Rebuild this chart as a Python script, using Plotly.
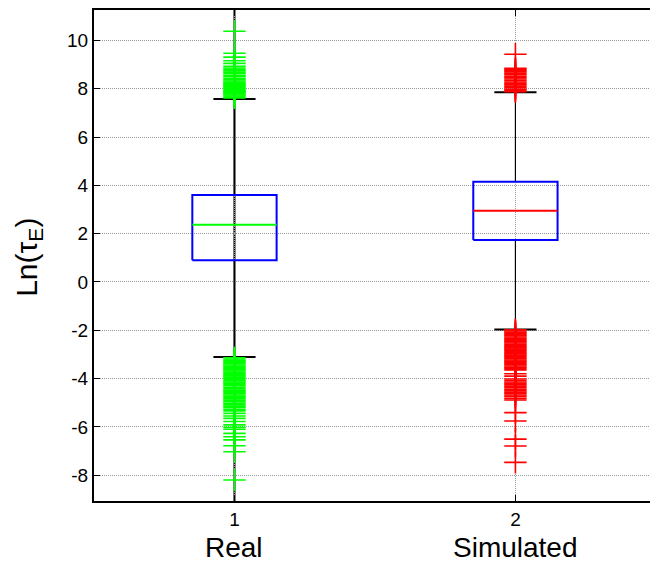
import plotly.graph_objects as go

# ---- data ----
categories = ["Real", "Simulated"]
positions = [1, 2]
q1 = [0.90, 1.74]
median = [2.37, 2.95]
q3 = [3.60, 4.15]
lower_whisker = [-3.11, -1.97]
upper_whisker = [7.58, 7.85]

real_outliers = [10.38, 9.47, 9.31, 9.16, 9.05, 8.93, 8.86, 8.80, 8.74, 8.68, 8.62, 8.55,
                 8.50, 8.42, 8.37, 8.32, 8.27, 8.22, 8.18, 8.14, 8.10, 8.06, 8.02, 7.98,
                 7.94, 7.90, 7.86, 7.82, 7.78, 7.74, 7.70, 7.66, 7.62,
                 -3.14, -3.19, -3.24, -3.29, -3.34, -3.39, -3.44, -3.49, -3.54, -3.59,
                 -3.64, -3.69, -3.74, -3.79, -3.84, -3.89, -3.94, -3.99, -4.04, -4.09,
                 -4.14, -4.19, -4.24, -4.30, -4.36, -4.42, -4.48, -4.53, -4.58, -4.63,
                 -4.68, -4.73, -4.78, -4.84, -4.90, -4.96, -5.02, -5.08, -5.14, -5.20,
                 -5.27, -5.34, -5.44, -5.55, -5.65, -5.78, -5.92, -6.02, -6.10, -6.27,
                 -6.41, -6.54, -6.78, -7.03, -8.20]
sim_outliers = [9.43, 8.85, 8.80, 8.75, 8.70, 8.64, 8.58, 8.52, 8.46, 8.40, 8.34, 8.28,
                8.22, 8.16, 8.10, 8.04, 7.98, 7.92, 7.88,
                -1.98, -2.03, -2.08, -2.13, -2.18, -2.23, -2.28, -2.33, -2.38, -2.43,
                -2.48, -2.53, -2.58, -2.63, -2.68, -2.73, -2.78, -2.83, -2.88, -2.93,
                -2.98, -3.03, -3.08, -3.13, -3.18, -3.23, -3.28, -3.33, -3.38, -3.43,
                -3.48, -3.53, -3.58, -3.64, -3.80, -3.90, -4.02, -4.08, -4.14, -4.20,
                -4.26, -4.32, -4.38, -4.44, -4.50, -4.56, -4.62, -4.68, -4.74, -4.82,
                -4.89, -5.41, -5.76, -6.51, -6.79, -7.47]
outliers = [real_outliers, sim_outliers]

y_tickvals = [-8, -6, -4, -2, 0, 2, 4, 6, 8, 10]
y_ticktext = ["-8", "-6", "-4", "-2", "0", "2", "4", "6", "8", "10"]
x_ticktext = ["1", "2"]

# ---- styles ----
median_colors = ["#00FF00", "#FF0000"]
outlier_colors = ["#00FF00", "#FF0000"]
box_half = 0.15
cap_half = 0.075
FONT = "Liberation Sans, Arial, Helvetica, sans-serif"

fig = go.Figure()

# black vertical line through Real column
fig.add_shape(type="line", xref="x", yref="paper", x0=positions[0], x1=positions[0],
              y0=0, y1=1, line=dict(color="black", width=2), layer="below")

for i, p in enumerate(positions):
    # whiskers
    fig.add_trace(go.Scatter(x=[p, p, None, p, p],
                             y=[q3[i], upper_whisker[i], None, q1[i], lower_whisker[i]],
                             mode="lines", line=dict(color="black", width=1.2),
                             showlegend=False, hoverinfo="skip"))
    # caps
    fig.add_trace(go.Scatter(x=[p - cap_half, p + cap_half, None, p - cap_half, p + cap_half],
                             y=[upper_whisker[i], upper_whisker[i], None, lower_whisker[i], lower_whisker[i]],
                             mode="lines", line=dict(color="black", width=2),
                             showlegend=False, hoverinfo="skip"))
    # outliers
    fig.add_trace(go.Scatter(x=[p] * len(outliers[i]), y=outliers[i], mode="markers",
                             marker=dict(symbol="cross-thin", size=16,
                                         line=dict(color=outlier_colors[i], width=1.6)),
                             showlegend=False, hoverinfo="skip"))
    # box
    fig.add_trace(go.Scatter(x=[p - box_half, p + box_half, p + box_half, p - box_half, p - box_half],
                             y=[q1[i], q1[i], q3[i], q3[i], q1[i]],
                             mode="lines", line=dict(color="#0000FF", width=2),
                             showlegend=False, hoverinfo="skip"))
    # median
    fig.add_trace(go.Scatter(x=[p - box_half, p + box_half], y=[median[i], median[i]],
                             mode="lines", line=dict(color=median_colors[i], width=2),
                             showlegend=False, hoverinfo="skip"))
    # category label
    fig.add_annotation(x=p, xref="x", y=-0.095, yref="paper", text=categories[i],
                       showarrow=False, yanchor="middle",
                       font=dict(family=FONT, size=28, color="black"))

fig.add_annotation(x=-0.118, xref="paper", y=0.496, yref="paper",
                   text="Ln(τ<sub>E</sub>)", textangle=-90, showarrow=False,
                   xanchor="center", yanchor="middle",
                   font=dict(family=FONT, size=30, color="black"))

fig.update_layout(
    width=650, height=563,
    margin=dict(l=94, r=0, t=10, b=62),
    paper_bgcolor="white", plot_bgcolor="white",
    font=dict(family=FONT, size=19, color="black"),
    showlegend=False,
)
fig.update_xaxes(range=[0.5, 2.479], tickvals=positions, ticktext=x_ticktext,
                 showline=True, linecolor="black", linewidth=2, mirror="ticks",
                 ticks="inside", ticklen=6, tickcolor="black",
                 showgrid=True, gridcolor="#999999", griddash="1px,1px", gridwidth=1,
                 zeroline=False, tickfont=dict(size=19))
fig.update_yaxes(range=[-9.07, 11.26], tickvals=y_tickvals, ticktext=y_ticktext,
                 showline=True, linecolor="black", linewidth=2, mirror=False,
                 ticks="inside", ticklen=6, tickcolor="black",
                 showgrid=True, gridcolor="#999999", griddash="1px,1px", gridwidth=1,
                 zeroline=False, tickfont=dict(size=19))

fig.write_html("out.html", config={"displayModeBar": False},
               post_script="document.body.style.margin='0';document.body.style.overflow='hidden';")
